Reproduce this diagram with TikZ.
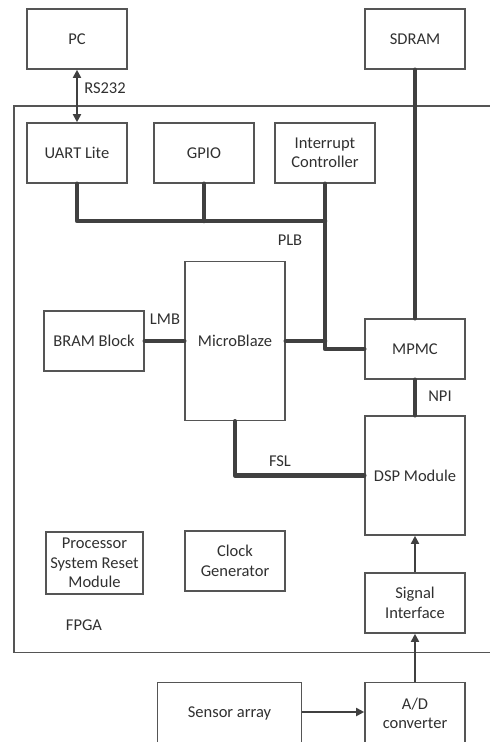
\documentclass[tikz,border=0pt]{standalone}
\usepackage{fontspec}
\setmainfont{Carlito}
\usetikzlibrary{arrows.meta}
\definecolor{linegray}{HTML}{404040}
\definecolor{boxgray}{HTML}{555555}
\definecolor{textgray}{HTML}{303030}
\begin{document}
\begin{tikzpicture}[x = 1pt, y = -1pt,
	block/.style = {draw = boxgray, line width = 1.6pt, minimum width = 100pt, minimum height = 60pt, align = center, inner sep = 0pt, text = textgray},
	bus/.style = {draw = linegray, line width = 4.6pt, line cap = round, line join = round},
	sig/.style = {draw = linegray, line width = 1.8pt, -{Triangle[length = 8pt, width = 8pt]}},
	lbl/.style = {text = textgray},
	every node/.style = {font = \fontsize{16.5}{19.5}\selectfont}]
	\useasboundingbox (0,0) rectangle (490,742);
	% FPGA outline, open to the right
	\draw[draw = boxgray, line width = 1.6pt] (490,106) -- (14,106) -- (14,652.5) -- (490,652.5);
	\node[lbl] (fpga) at (84,625) {FPGA};
	% outside the FPGA
	\node[block] (pc) at (77,39) {PC};
	\node[block] (sdram) at (415,39) {SDRAM};
	\node[block, minimum width = 144pt, minimum height = 62pt] (sensor) at (229.5,713.5) {Sensor array};
	\node[block, minimum height = 62pt] (adc) at (415,713.5) {A/D\\converter};
	% inside the FPGA
	\node[block] (uart) at (77,153) {UART Lite};
	\node[block] (gpio) at (204,153) {GPIO};
	\node[block] (intc) at (325,153) {Interrupt\\Controller};
	\node[block] (bram) at (94,341) {BRAM Block};
	\node[block, minimum height = 159pt] (mb) at (235,341) {MicroBlaze};
	\node[block] (mpmc) at (415,349) {MPMC};
	\node[block, minimum height = 119pt] (dsp) at (415,475.5) {DSP Module};
	\node[block, minimum width = 97pt, minimum height = 62pt] (reset) at (94.5,563) {Processor\\System Reset\\Module};
	\node[block] (clk) at (235,561) {Clock\\Generator};
	\node[block] (sigif) at (415,603) {Signal\\Interface};
	% buses
	\coordinate (plbend) at (325,221);
	\draw[bus] (uart.south) |- (plbend);
	\draw[bus] (gpio.south) -- (gpio.south |- plbend);
	\draw[bus] (intc.south) |- (mpmc.west);
	\draw[bus] (mb.east) -- (mb.east -| intc.south);
	\draw[bus] (bram.east) -- (mb.west);
	\draw[bus] (sdram.south) -- (mpmc.north);
	\draw[bus] (mpmc.south) -- (dsp.north);
	\draw[bus] (mb.south) |- (dsp.west);
	% signals
	\draw[sig, {Triangle[length = 8pt, width = 8pt]}-{Triangle[length = 8pt, width = 8pt]}] (pc.south) -- (uart.north);
	\draw[sig] (sensor.east |- 0,712) -- (adc.west |- 0,712);
	\draw[sig] (adc.north) -- (sigif.south);
	\draw[sig] (sigif.north) -- (dsp.south);
	% bus labels
	\node[lbl] (rs232) at (105,88) {RS232};
	\node[lbl] (plb) at (290,240) {PLB};
	\node[lbl] (lmb) at (165,319) {LMB};
	\node[lbl] (npi) at (440,396) {NPI};
	\node[lbl] (fsl) at (280,461) {FSL};
\end{tikzpicture}
\end{document}
